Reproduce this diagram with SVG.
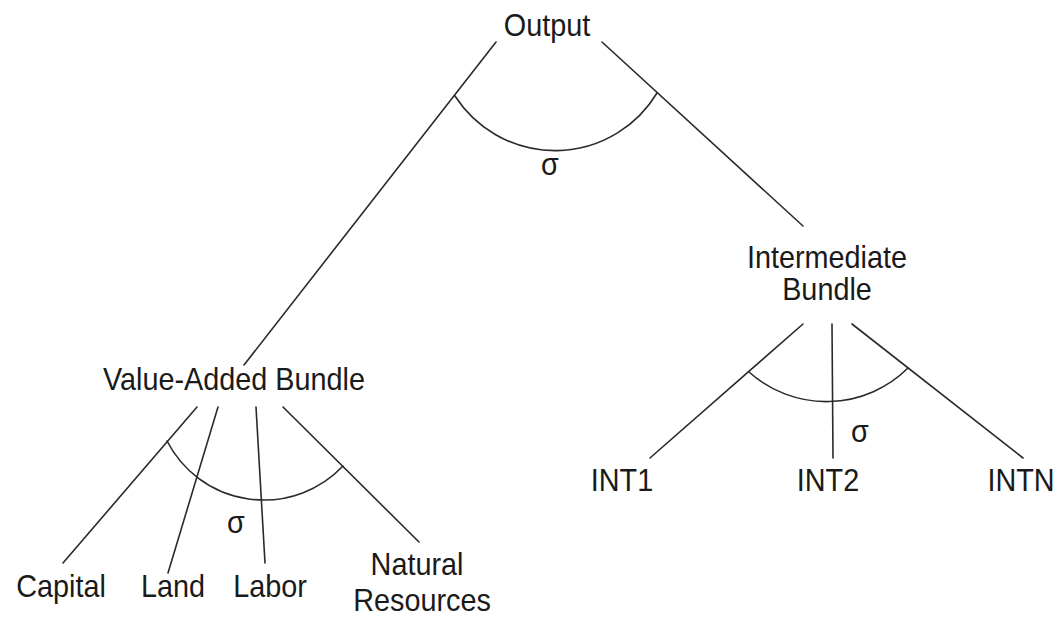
<svg xmlns="http://www.w3.org/2000/svg" width="1060" height="618" viewBox="0 0 1060 618">
<style>
.lbl{font-family:"Liberation Sans",Arial,sans-serif;font-size:32px;fill:#1a1a1a;text-anchor:middle}
.ln{stroke:#2a2a2a;stroke-width:1.6;fill:none;stroke-linecap:round}
</style>
<rect width="1060" height="618" fill="#ffffff"/>
<g id="connectors">
<line class="ln" x1="496" y1="42" x2="244" y2="365"/>
<line class="ln" x1="602" y1="42" x2="803" y2="226"/>
<path class="ln" d="M455,96 A119,119 0 0 0 657,93"/>
<line class="ln" x1="197" y1="407" x2="63" y2="563"/>
<line class="ln" x1="218" y1="407" x2="168" y2="573"/>
<line class="ln" x1="256" y1="407" x2="265" y2="563"/>
<line class="ln" x1="283" y1="407" x2="419" y2="542"/>
<path class="ln" d="M167,441 A109,109 0 0 0 343,466"/>
<line class="ln" x1="803" y1="324" x2="650" y2="458"/>
<line class="ln" x1="832" y1="324" x2="833" y2="458"/>
<line class="ln" x1="852" y1="324" x2="1023" y2="458"/>
<path class="ln" d="M749,372 A116,116 0 0 0 908,368"/>
</g>
<g id="output"><text class="lbl" transform="translate(547,36) scale(0.9,1)">Output</text></g>
<g id="sigma-output"><text class="lbl" transform="translate(550,175) scale(0.9,1)">σ</text></g>
<g id="value-added"><text class="lbl" transform="translate(234,390) scale(0.9,1)">Value-Added Bundle</text></g>
<g id="sigma-va"><text class="lbl" transform="translate(236,533) scale(0.9,1)">σ</text></g>
<g id="intermediate"><text class="lbl" transform="translate(827,268) scale(0.9,1)">Intermediate</text><text class="lbl" transform="translate(827,300) scale(0.9,1)">Bundle</text></g>
<g id="sigma-int"><text class="lbl" transform="translate(860,442) scale(0.9,1)">σ</text></g>
<g id="capital"><text class="lbl" transform="translate(61,597) scale(0.9,1)">Capital</text></g>
<g id="land"><text class="lbl" transform="translate(173,597) scale(0.9,1)">Land</text></g>
<g id="labor"><text class="lbl" transform="translate(270,597) scale(0.9,1)">Labor</text></g>
<g id="natural"><text class="lbl" transform="translate(417,575) scale(0.9,1)">Natural</text><text class="lbl" transform="translate(422,611) scale(0.9,1)">Resources</text></g>
<g id="int1"><text class="lbl" transform="translate(622,491) scale(0.9,1)">INT1</text></g>
<g id="int2"><text class="lbl" transform="translate(828,491) scale(0.9,1)">INT2</text></g>
<g id="intn"><text class="lbl" transform="translate(1021,491) scale(0.9,1)">INTN</text></g>
</svg>
